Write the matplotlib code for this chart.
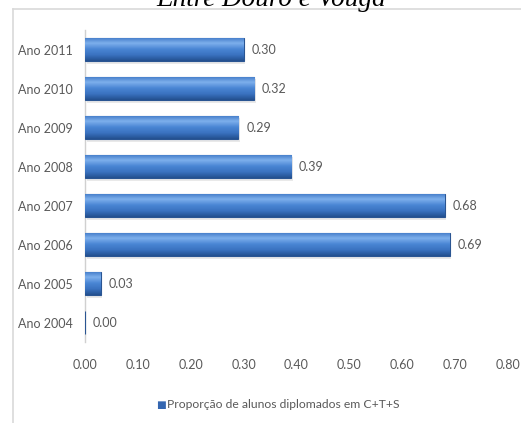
import numpy as np
import matplotlib.pyplot as plt
from matplotlib.lines import Line2D
from matplotlib.colors import LinearSegmentedColormap

anos = ["Ano 2004", "Ano 2005", "Ano 2006", "Ano 2007",
        "Ano 2008", "Ano 2009", "Ano 2010", "Ano 2011"]
proporcao = [0.00, 0.03, 0.69, 0.68, 0.39, 0.29, 0.32, 0.30]
serie = "Proporção de alunos diplomados em C+T+S"
titulo = "Entre Douro e Vouga"

plt.rcParams["font.family"] = ["Lato", "DejaVu Sans"]
cinza = "#595959"

fig = plt.figure(figsize=(5.21, 4.23), dpi=100)
ax = fig.add_axes([0.163, 0.191, 0.812, 0.738])

# gradiente vertical das barras (realce em cima, sombra em baixo)
grad = LinearSegmentedColormap.from_list(
    "barra", ["#23508f", "#3a72c0", "#4a86d4", "#7eb0ec", "#3f78c6"])

y = np.arange(len(anos))
altura = 0.6
barras = ax.barh(y, proporcao, height=altura, color="#3c76c4",
                 edgecolor="#2a5592", linewidth=0.8, zorder=3)

for b, v in zip(barras, proporcao):
    x0, y0 = b.get_x(), b.get_y()
    w, h = b.get_width(), b.get_height()
    if w > 0:
        # sombra ligeira por baixo da barra
        ax.add_patch(plt.Rectangle((x0 + 0.003, y0 - 0.06), w, h,
                                   color="#d4d4d4", alpha=0.5, zorder=2,
                                   linewidth=0))
        im = ax.imshow(np.linspace(0, 1, 64).reshape(-1, 1), cmap=grad,
                       aspect="auto", extent=(x0, x0 + w, y0, y0 + h),
                       origin="lower", zorder=3.5)
        im.set_clip_path(b)
    ax.text(v + 0.015, b.get_y() + h / 2, f"{v:.2f}", va="center",
            ha="left", fontsize=9, color=cinza, zorder=5)

ax.set_xlim(0, 0.8)
ax.set_ylim(-0.5, len(anos) - 0.5)
ax.set_xticks(np.arange(0, 0.81, 0.1))
ax.set_xticklabels([f"{t:.2f}" for t in np.arange(0, 0.81, 0.1)])
ax.set_yticks(y)
ax.set_yticklabels(anos)
ax.tick_params(axis="both", length=0, labelsize=9, colors=cinza)
ax.tick_params(axis="x", pad=12)
ax.tick_params(axis="y", pad=9)

for s in ["top", "right", "bottom"]:
    ax.spines[s].set_visible(False)
ax.spines["left"].set_color("#d0d0d0")
ax.spines["left"].set_linewidth(1.0)

# legenda em baixo
fig.text(156 / 521, 0.043, "\u25a0", color="#3466b0", fontsize=7.5,
         ha="left", va="center", family="DejaVu Sans")
fig.text(167 / 521, 0.043, serie, color=cinza, fontsize=8.7, ha="left",
         va="center")

# titulo cortado no topo
fig.text(271 / 521, 1 - 6 / 423, titulo, ha="center", va="baseline",
         family="Liberation Serif", style="italic", fontsize=19.5,
         color="black")

# contorno da area do grafico
fig.add_artist(Line2D([13 / 521, 13 / 521], [0, 1 - 9 / 423],
                      transform=fig.transFigure, color="#d9d9d9", lw=1.2))
fig.add_artist(Line2D([13 / 521, 1], [1 - 9 / 423, 1 - 9 / 423],
                      transform=fig.transFigure, color="#d9d9d9", lw=1.2))

fig.savefig("out.png", dpi=100)
